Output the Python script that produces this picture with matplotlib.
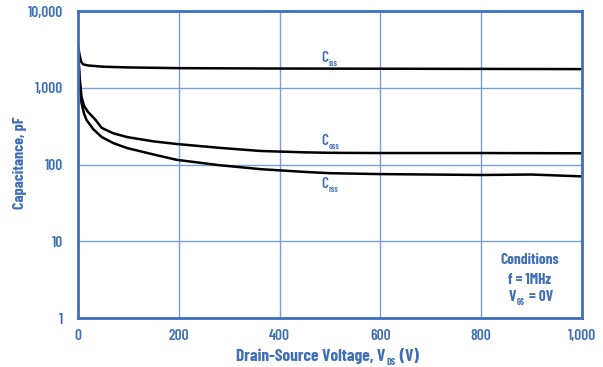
import matplotlib
matplotlib.use("Agg")
import matplotlib.pyplot as plt

# data
vds_iss = [0, 3, 6, 10, 20, 50, 100, 200, 400, 600, 800, 1000]
ciss = [3500, 2700, 2200, 2020, 1950, 1880, 1840, 1800, 1780, 1770, 1760, 1750]

vds_oss = [0, 3, 7, 12, 20, 35, 47, 70, 97, 150, 196, 280, 362, 450, 500, 600, 800, 1000]
coss = [3300, 1400, 760, 580, 483, 380, 300, 255, 228, 200, 185, 165, 150, 144, 142, 141, 141, 140]

vds_rss = [0, 3, 7, 12, 17, 30, 47, 70, 97, 150, 196, 280, 362, 450, 500, 600, 800, 900, 1000]
crss = [3300, 1200, 630, 460, 380, 290, 228, 190, 164, 135, 115, 98, 87, 80, 77, 75, 73, 74, 70]

xticks = [0, 200, 400, 600, 800, 1000]
xticklabels = ["0", "200", "400", "600", "800", "1,000"]
yticks = [1, 10, 100, 1000, 10000]
yticklabels = ["1", "10", "100", "1,000", "10,000"]

blue_txt = "#3f6fb6"
blue_grid = "#7a9fd6"
blue_frame = "#3c70c2"

plt.rcParams["font.family"] = ["Barlow Condensed", "DejaVu Sans"]

W, H = 603, 367
fig = plt.figure(figsize=(W / 100, H / 100), dpi=100)
ax = fig.add_axes([78 / W, 1 - 318 / H, (582 - 78) / W, (318 - 11) / H])


def px(x, y):
    return x / W, 1 - y / H


def sub_label(x, y, parts, size, weight, color, sub_dy=-2.5):
    # parts: list of (text, is_subscript); baseline kept on the first piece
    first = None
    prev = None
    for txt, is_sub in parts:
        if prev is None:
            prev = fig.text(x, y, txt, fontsize=size, fontweight=weight,
                            color=color, ha="left", va="baseline")
            first = prev
            continue
        dy = sub_dy if is_sub else 0
        fs = size * 0.58 if is_sub else size
        prev = ax.annotate(txt, xy=(1, 0), xycoords=(prev, first), xytext=(0.5, dy),
                           textcoords="offset points", fontsize=fs, fontweight=weight,
                           color=color, ha="left", va="bottom", annotation_clip=False)
    return first


ax.plot(vds_iss, ciss, color="black", lw=1.8)
ax.plot(vds_oss, coss, color="black", lw=1.8)
ax.plot(vds_rss, crss, color="black", lw=1.8)

ax.set_yscale("log")
ax.set_xlim(0, 1000)
ax.set_ylim(1, 10000)
ax.set_xticks(xticks)
ax.set_xticklabels(xticklabels)
ax.set_yticks(yticks)
ax.set_yticklabels(yticklabels)
ax.minorticks_off()
ax.tick_params(axis="y", length=0, colors=blue_txt, labelsize=11, pad=11)
ax.tick_params(axis="x", length=0, colors=blue_txt, labelsize=11, pad=8)
for lab in ax.get_xticklabels() + ax.get_yticklabels():
    lab.set_fontweight("semibold")

ax.grid(True, color=blue_grid, lw=1.0)
for s in ax.spines.values():
    s.set_color(blue_frame)
    s.set_linewidth(2)

# axis titles
fig.text(*px(20, 163), "Capacitance, pF", rotation=90, color=blue_txt, fontsize=11.5,
         fontweight="bold", ha="center", va="center")
sub_label(*px(236, 361), [("Drain-Source Voltage, V", False), ("DS", True), (" (V)", False)],
          12.5, "bold", blue_txt, sub_dy=-2)

# curve labels
sub_label(*px(321, 62), [("C", False), ("iss", True)], 11, "semibold", blue_txt)
sub_label(*px(321, 145), [("C", False), ("oss", True)], 11, "semibold", blue_txt)
sub_label(*px(321, 188), [("C", False), ("rss", True)], 11, "semibold", blue_txt)

# conditions note
fig.text(*px(530, 260), "Conditions", color=blue_txt, fontsize=11, fontweight="bold",
         ha="center", va="center")
fig.text(*px(530, 280), "f = 1MHz", color=blue_txt, fontsize=11, fontweight="bold",
         ha="center", va="center")
sub_label(*px(509, 301), [("V", False), ("GS", True), (" = 0V", False)],
          11, "bold", blue_txt)

fig.savefig("out.png", dpi=100)
